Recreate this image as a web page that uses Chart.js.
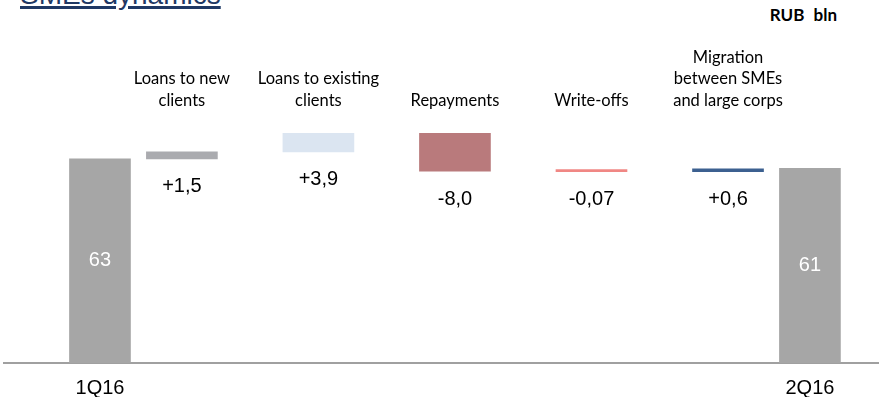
<!DOCTYPE html>
<html lang="en">
<head>
  <meta charset="UTF-8">
  <title>SMEs dynamics</title>
  <style>
    body {
      margin: 0;
      width: 883px;
      height: 397px;
      overflow: hidden;
      position: relative;
      background: #fff;
    }

    .title {
      position: absolute;
      left: 20px;
      top: -19px;
      font: 28px 'Liberation Sans', Arial, sans-serif;
      line-height: 28px;
      color: #1f3864;
      text-decoration: underline;
      text-decoration-thickness: 3px;
      text-underline-offset: 2px;
      white-space: nowrap;
    }

    .unit {
      position: absolute;
      right: 46px;
      top: 5px;
      font: bold 17px 'Lato', sans-serif;
      line-height: 20px;
      word-spacing: 5px;
      color: #000;
      white-space: pre;
    }

    /* taller than the window so the period labels sit where they should */
    .chart-box {
      position: absolute;
      left: 0;
      top: 0;
      width: 883px;
      height: 413px;
    }
  </style>
</head>
<body>
  <div class="title">SMEs dynamics</div>
  <div class="unit">RUB bln</div>
  <div class="chart-box"><canvas id="waterfall"></canvas></div>

  <script src="https://cdn.jsdelivr.net/npm/chart.js"></script>
  <script>
    // data, RUB bln
    const periods = ['1Q16', '2Q16'];
    const openingBalance = 63;
    const closingBalance = 61;
    const drivers = [
      ['Loans to new', 'clients'],
      ['Loans to existing', 'clients'],
      ['Repayments'],
      ['Write-offs'],
      ['Migration', 'between SMEs', 'and large corps']
    ];
    const changes = [1.5, 3.9, -8.0, -0.07, 0.6];
    const changeColors = ['#aaabaf', '#dbe5f1', '#b97a7c', '#f08784', '#3c6090'];

    // layout: empty category slots used as spacers between the columns
    const SLOTS = 32;
    const slotOf = [3, 6, 11, 16, 21, 26, 29];   // opening, 5 drivers, closing

    const blank = () => new Array(SLOTS).fill(null);
    const bottomLabels = new Array(SLOTS).fill('');
    const topLabels = new Array(SLOTS).fill('');
    const totals = blank();
    const steps = blank();
    const stepColors = new Array(SLOTS).fill('transparent');
    const deltaAt = {};

    bottomLabels[slotOf[0]] = periods[0];
    bottomLabels[slotOf[6]] = periods[1];
    totals[slotOf[0]] = openingBalance;
    totals[slotOf[6]] = closingBalance;

    let running = openingBalance;
    changes.forEach((d, i) => {
      const s = slotOf[i + 1];
      steps[s] = [running, running + d];
      stepColors[s] = changeColors[i];
      topLabels[s] = drivers[i];
      deltaAt[s] = d;
      running += d;
    });

    function fmtDelta(v) {
      const digits = Math.abs(v) < 0.1 ? 2 : 1;
      return (v > 0 ? '+' : '-') + Math.abs(v).toFixed(digits).replace('.', ',');
    }

    // numbers inside the totals and under each step
    const valueLabels = {
      id: 'valueLabels',
      afterDatasetsDraw(chart) {
        const ctx = chart.ctx;
        const bottom = chart.chartArea.bottom;
        ctx.save();
        ctx.font = '20px "Liberation Sans", Arial, sans-serif';
        ctx.textAlign = 'center';
        ctx.textBaseline = 'middle';
        chart.data.datasets.forEach((ds, di) => {
          const meta = chart.getDatasetMeta(di);
          meta.data.forEach((bar, i) => {
            if (ds.data[i] == null) return;
            if (ds.label === 'totals') {
              // the bar base lies below the visible axis, so centre on the visible part
              ctx.fillStyle = '#fff';
              ctx.fillText(String(ds.data[i]), bar.x, (bar.y + Math.min(bar.base, bottom)) / 2);
            } else {
              const lower = Math.max(bar.y, bar.base);
              ctx.fillStyle = '#000';
              ctx.fillText(fmtDelta(deltaAt[i]), bar.x, lower + 28);
            }
          });
        });
        ctx.restore();
      }
    };

    new Chart(document.getElementById('waterfall'), {
      type: 'bar',
      data: {
        labels: bottomLabels,
        datasets: [
          {
            label: 'totals',
            data: totals,
            backgroundColor: '#a6a6a6',
            barThickness: 61,
            grouped: false
          },
          {
            label: 'steps',
            data: steps,
            backgroundColor: stepColors,
            barThickness: 71,
            minBarLength: 2,
            grouped: false
          }
        ]
      },
      options: {
        responsive: true,
        maintainAspectRatio: false,
        animation: false,
        layout: { padding: { top: 46, left: 4.4, right: 4.8, bottom: 0 } },
        plugins: {
          legend: { display: false },
          tooltip: { enabled: false }
        },
        scales: {
          x: {
            type: 'category',
            position: 'bottom',
            offset: true,
            grid: { display: false, drawTicks: false },
            border: { display: true, color: '#a0a0a0', width: 2 },
            ticks: {
              autoSkip: false,
              maxRotation: 0,
              minRotation: 0,
              padding: 15,
              color: '#000',
              font: { family: "'Liberation Sans', Arial, sans-serif", size: 20, lineHeight: 1 }
            }
          },
          xTop: {
            type: 'category',
            position: 'top',
            labels: topLabels,
            offset: true,
            grid: { display: false, drawTicks: false },
            border: { display: false },
            ticks: {
              autoSkip: false,
              maxRotation: 0,
              minRotation: 0,
              padding: 0.5,
              color: '#000',
              font: { family: 'Lato', size: 16.5, lineHeight: '21.5px' }
            }
          },
          y: {
            display: false,
            min: 20,
            max: 73
          }
        }
      },
      plugins: [valueLabels]
    });
  </script>
</body>
</html>
